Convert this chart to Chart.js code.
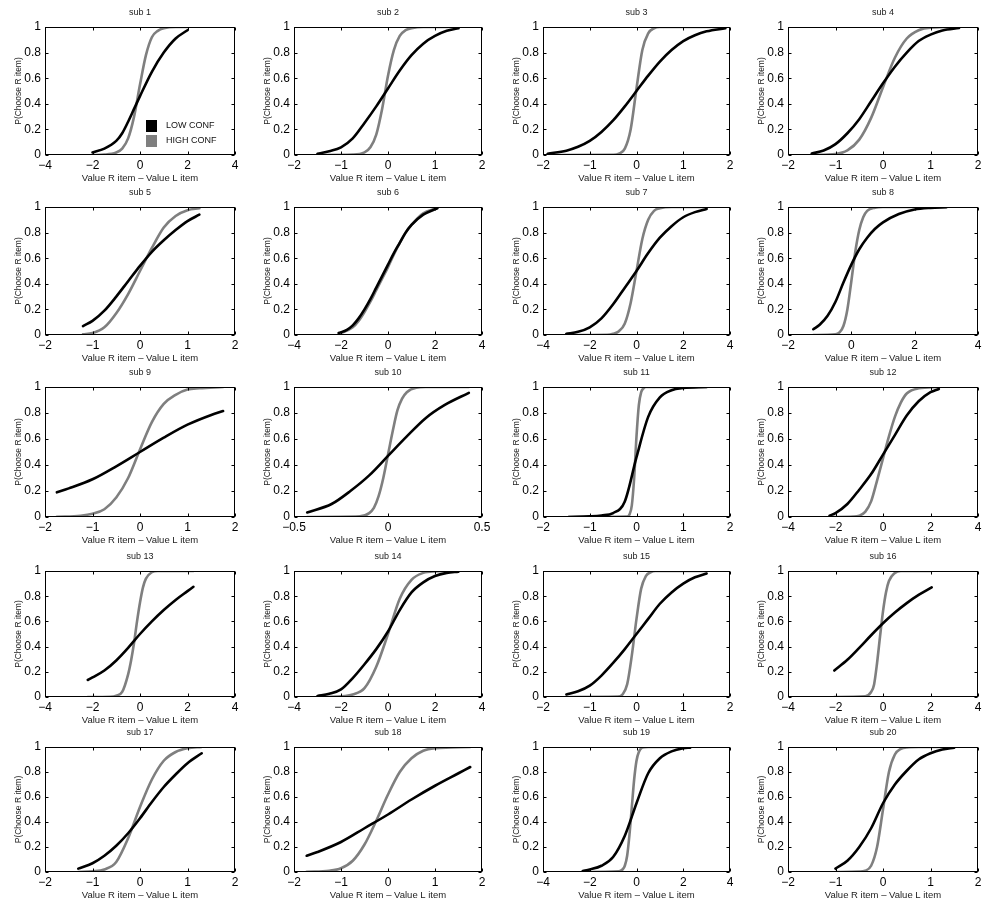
<!DOCTYPE html>
<html>
<head>
<meta charset="utf-8">
<script src="https://cdn.jsdelivr.net/npm/chart.js@4.4.1/dist/chart.umd.min.js"></script>
<style>
  html, body { margin: 0; padding: 0; background: #fff; }
  #grid { position: relative; width: 983px; height: 904px; overflow: hidden; }
  #grid canvas { position: absolute; }
</style>
</head>
<body>
<div id="grid"></div>
<script>
// x axis range and tick step of each subject's panel
const xLimits = [[-4, 4], [-2, 2], [-2, 2], [-2, 2],
                 [-2, 2], [-4, 4], [-4, 4], [-2, 4],
                 [-2, 2], [-0.5, 0.5], [-2, 2], [-4, 4],
                 [-4, 4], [-4, 4], [-2, 2], [-4, 4],
                 [-2, 2], [-2, 2], [-4, 4], [-2, 2]];
const xSteps = [2, 1, 1, 1, 1, 2, 2, 2, 1, 0.5, 1, 2, 2, 2, 1, 2, 1, 1, 2, 1];
const yTicks = [0, 0.2, 0.4, 0.6, 0.8, 1];
const seriesNames = ['LOW CONF', 'HIGH CONF'];

// fitted curves, [value difference, P(choose R)]
const lowConf = [
  [[-2, 0.02], [-1.5, 0.05], [-1, 0.11], [-0.75, 0.17], [-0.5, 0.26], [-0.25, 0.36], [0, 0.46], [0.5, 0.65], [1, 0.8], [1.5, 0.91], [2, 0.975]],
  [[-1.5, 0.01], [-1.25, 0.03], [-1, 0.06], [-0.75, 0.13], [-0.5, 0.25], [-0.25, 0.38], [0, 0.52], [0.25, 0.66], [0.5, 0.78], [0.75, 0.87], [1, 0.93], [1.25, 0.97], [1.5, 0.99]],
  [[-1.9, 0.01], [-1.5, 0.034], [-1.25, 0.064], [-1, 0.11], [-0.75, 0.18], [-0.5, 0.27], [-0.25, 0.38], [0, 0.5], [0.25, 0.62], [0.5, 0.73], [0.75, 0.82], [1, 0.89], [1.25, 0.936], [1.5, 0.966], [1.9, 0.99]],
  [[-1.5, 0.012], [-1.25, 0.035], [-1, 0.085], [-0.75, 0.17], [-0.5, 0.28], [-0.25, 0.42], [0, 0.56], [0.25, 0.69], [0.5, 0.8], [0.75, 0.89], [1, 0.94], [1.25, 0.973], [1.6, 0.992]],
  [[-1.2, 0.07], [-1, 0.11], [-0.75, 0.19], [-0.5, 0.3], [-0.25, 0.42], [0, 0.54], [0.25, 0.65], [0.5, 0.74], [0.75, 0.82], [1, 0.89], [1.25, 0.94]],
  [[-2.1, 0.015], [-1.75, 0.04], [-1.5, 0.075], [-1.25, 0.13], [-1, 0.2], [-0.75, 0.28], [-0.5, 0.37], [-0.25, 0.46], [0, 0.55], [0.25, 0.64], [0.5, 0.72], [0.75, 0.8], [1, 0.86], [1.5, 0.94], [2.1, 0.99]],
  [[-3, 0.01], [-2.5, 0.025], [-2, 0.06], [-1.5, 0.13], [-1, 0.24], [-0.5, 0.37], [0, 0.5], [0.5, 0.64], [1, 0.76], [1.5, 0.85], [2, 0.92], [2.5, 0.96], [3, 0.985]],
  [[-1.2, 0.045], [-1, 0.08], [-0.75, 0.15], [-0.5, 0.26], [-0.25, 0.41], [0, 0.55], [0.25, 0.67], [0.5, 0.76], [0.75, 0.83], [1, 0.88], [1.5, 0.945], [2, 0.98], [2.5, 0.993], [3, 0.998]],
  [[-1.75, 0.19], [-1.5, 0.22], [-1, 0.29], [-0.5, 0.39], [0, 0.5], [0.5, 0.61], [1, 0.71], [1.5, 0.785], [1.75, 0.815]],
  [[-0.43, 0.035], [-0.3, 0.1], [-0.2, 0.2], [-0.1, 0.32], [0, 0.47], [0.1, 0.62], [0.2, 0.76], [0.3, 0.86], [0.43, 0.955]],
  [[-1.45, 0], [-1, 0.005], [-0.75, 0.012], [-0.5, 0.03], [-0.25, 0.12], [0, 0.46], [0.25, 0.77], [0.5, 0.92], [0.75, 0.975], [1, 0.992], [1.5, 1]],
  [[-2.25, 0.01], [-2, 0.03], [-1.5, 0.1], [-1, 0.21], [-0.5, 0.33], [0, 0.48], [0.5, 0.63], [1, 0.78], [1.5, 0.89], [2, 0.96], [2.35, 0.985]],
  [[-2.2, 0.135], [-2, 0.155], [-1.5, 0.21], [-1, 0.29], [-0.5, 0.39], [0, 0.5], [0.5, 0.6], [1, 0.69], [1.5, 0.77], [2, 0.84], [2.25, 0.875]],
  [[-3, 0.008], [-2.5, 0.025], [-2, 0.06], [-1.5, 0.15], [-1, 0.26], [-0.5, 0.38], [0, 0.52], [0.5, 0.69], [1, 0.83], [1.5, 0.91], [2, 0.96], [2.5, 0.985], [3, 0.995]],
  [[-1.5, 0.02], [-1.25, 0.045], [-1, 0.09], [-0.75, 0.17], [-0.5, 0.27], [-0.25, 0.38], [0, 0.5], [0.25, 0.62], [0.5, 0.74], [0.75, 0.83], [1, 0.9], [1.25, 0.95], [1.5, 0.98]],
  [[-2.05, 0.21], [-1.5, 0.295], [-1, 0.39], [-0.5, 0.49], [0, 0.585], [0.5, 0.67], [1, 0.745], [1.5, 0.81], [2.05, 0.87]],
  [[-1.3, 0.027], [-1, 0.07], [-0.75, 0.13], [-0.5, 0.21], [-0.25, 0.31], [0, 0.43], [0.25, 0.56], [0.5, 0.68], [0.75, 0.78], [1, 0.87], [1.3, 0.95]],
  [[-1.73, 0.13], [-1.5, 0.16], [-1, 0.24], [-0.5, 0.35], [0, 0.46], [0.5, 0.58], [1, 0.69], [1.5, 0.79], [1.75, 0.84]],
  [[-2.3, 0.008], [-2, 0.02], [-1.5, 0.05], [-1, 0.12], [-0.5, 0.29], [0, 0.55], [0.5, 0.79], [1, 0.91], [1.5, 0.965], [2, 0.99], [2.3, 0.995]],
  [[-1, 0.027], [-0.75, 0.09], [-0.5, 0.2], [-0.25, 0.35], [0, 0.55], [0.25, 0.7], [0.5, 0.81], [0.75, 0.9], [1, 0.95], [1.25, 0.98], [1.5, 0.995]]
];

const highConf = [
  [[-2, 0], [-1.5, 0.003], [-1, 0.02], [-0.75, 0.05], [-0.5, 0.13], [-0.25, 0.3], [0, 0.55], [0.25, 0.78], [0.5, 0.92], [0.75, 0.97], [1, 0.99], [1.5, 1], [2, 1]],
  [[-1.5, 0], [-0.75, 0.003], [-0.5, 0.02], [-0.375, 0.06], [-0.25, 0.16], [-0.125, 0.36], [0, 0.62], [0.125, 0.82], [0.25, 0.93], [0.375, 0.975], [0.5, 0.99], [0.75, 1], [1.5, 1]],
  [[-1.9, 0], [-0.5, 0.002], [-0.375, 0.01], [-0.25, 0.05], [-0.125, 0.2], [0, 0.52], [0.125, 0.82], [0.25, 0.95], [0.375, 0.99], [0.5, 1], [1.9, 1]],
  [[-1.5, 0], [-1, 0.008], [-0.75, 0.036], [-0.5, 0.12], [-0.25, 0.29], [0, 0.53], [0.25, 0.76], [0.5, 0.91], [0.75, 0.975], [1, 0.995], [1.6, 1]],
  [[-1.2, 0.005], [-1, 0.015], [-0.75, 0.06], [-0.5, 0.17], [-0.25, 0.32], [0, 0.5], [0.25, 0.68], [0.5, 0.84], [0.75, 0.93], [1, 0.975], [1.25, 0.99]],
  [[-2.05, 0.01], [-1.5, 0.06], [-1.25, 0.11], [-1, 0.18], [-0.75, 0.26], [-0.5, 0.35], [-0.25, 0.44], [0, 0.53], [0.25, 0.63], [0.5, 0.72], [0.75, 0.8], [1, 0.86], [1.5, 0.95], [2.05, 0.99]],
  [[-3, 0], [-1.25, 0.002], [-1, 0.01], [-0.75, 0.03], [-0.5, 0.09], [-0.25, 0.25], [0, 0.5], [0.25, 0.75], [0.5, 0.9], [0.75, 0.97], [1, 0.99], [1.5, 1], [3, 1]],
  [[-1.2, 0], [-0.5, 0.005], [-0.375, 0.02], [-0.25, 0.07], [-0.125, 0.2], [0, 0.42], [0.125, 0.65], [0.25, 0.82], [0.375, 0.92], [0.5, 0.97], [0.75, 0.995], [1, 1], [3, 1]],
  [[-1.75, 0.002], [-1.25, 0.01], [-1, 0.025], [-0.75, 0.06], [-0.5, 0.15], [-0.25, 0.3], [0, 0.52], [0.25, 0.73], [0.5, 0.87], [0.75, 0.94], [1, 0.98], [1.25, 0.99], [1.75, 1]],
  [[-0.43, 0], [-0.15, 0.005], [-0.1, 0.03], [-0.075, 0.07], [-0.05, 0.16], [-0.025, 0.3], [0, 0.48], [0.025, 0.66], [0.05, 0.82], [0.075, 0.91], [0.1, 0.96], [0.15, 0.995], [0.2, 1], [0.43, 1]],
  [[-1.45, 0], [-0.2, 0.003], [-0.15, 0.02], [-0.1, 0.09], [-0.05, 0.3], [0, 0.62], [0.05, 0.86], [0.1, 0.96], [0.15, 0.99], [0.2, 1], [1.5, 1]],
  [[-2.25, 0], [-1.25, 0.003], [-1, 0.01], [-0.75, 0.04], [-0.5, 0.12], [-0.25, 0.28], [0, 0.45], [0.25, 0.62], [0.5, 0.77], [0.75, 0.88], [1, 0.95], [1.5, 0.99], [2.35, 1]],
  [[-2.2, 0], [-1.25, 0.002], [-1, 0.01], [-0.75, 0.04], [-0.5, 0.18], [-0.375, 0.29], [-0.25, 0.43], [-0.125, 0.6], [0, 0.75], [0.125, 0.87], [0.25, 0.94], [0.5, 0.99], [0.75, 1], [2.25, 1]],
  [[-3, 0], [-2, 0.005], [-1.5, 0.02], [-1, 0.07], [-0.5, 0.24], [0, 0.5], [0.5, 0.78], [1, 0.93], [1.5, 0.985], [2, 0.997], [3, 1]],
  [[-1.5, 0], [-0.4, 0.003], [-0.3, 0.02], [-0.2, 0.1], [-0.1, 0.33], [0, 0.62], [0.1, 0.86], [0.2, 0.96], [0.3, 0.99], [0.4, 1], [1.5, 1]],
  [[-2.05, 0], [-0.75, 0.005], [-0.5, 0.04], [-0.375, 0.1], [-0.25, 0.27], [-0.125, 0.48], [0, 0.68], [0.125, 0.83], [0.25, 0.92], [0.5, 0.985], [0.75, 1], [2.05, 1]],
  [[-1.3, 0], [-1, 0.005], [-0.75, 0.02], [-0.5, 0.08], [-0.25, 0.27], [0, 0.52], [0.25, 0.74], [0.5, 0.89], [0.75, 0.96], [1, 0.99], [1.3, 1]],
  [[-1.73, 0.002], [-1.25, 0.01], [-1, 0.03], [-0.75, 0.09], [-0.5, 0.22], [-0.25, 0.41], [0, 0.62], [0.25, 0.8], [0.5, 0.91], [0.75, 0.97], [1, 0.99], [1.75, 1]],
  [[-2.3, 0], [-0.75, 0.005], [-0.6, 0.02], [-0.5, 0.05], [-0.4, 0.13], [-0.3, 0.3], [-0.2, 0.52], [-0.1, 0.74], [0, 0.89], [0.1, 0.96], [0.25, 0.995], [0.5, 1], [2.3, 1]],
  [[-1, 0], [-0.5, 0.003], [-0.375, 0.01], [-0.25, 0.05], [-0.125, 0.2], [0, 0.5], [0.125, 0.8], [0.25, 0.94], [0.375, 0.985], [0.5, 0.997], [0.75, 1], [1.5, 1]]
];

// plot boxes on the page (MATLAB subplot grid, 5 rows x 4 columns)
const colLeft = [45, 294, 543, 788];
const colRight = [235, 482, 730, 978];
const rowTop = [27, 207, 387, 571, 747];
const rowBottom = [155, 335, 517, 697, 872];
const PAD_L = 45, PAD_T = 27, PAD_R = 12, PAD_B = 32;

const FONT = '"Liberation Sans", Arial, Helvetica, sans-serif';
Chart.defaults.font.family = FONT;

const minus = v => (v < 0 ? '\u2212' : '') + Math.abs(v);

// box round the axes, inward tick marks, and the legend of the first panel
const frame = {
  id: 'frame',
  afterDraw(chart, args, opts) {
    const { ctx, chartArea: a, scales: { x, y } } = chart;
    const L = Math.round(a.left) + 0.5, R = Math.round(a.right) - 0.5;
    const T = Math.round(a.top) + 0.5, B = Math.round(a.bottom) - 0.5;
    ctx.save();
    ctx.strokeStyle = '#000';
    ctx.lineWidth = 1;
    ctx.strokeRect(L, T, R - L, B - T);
    ctx.beginPath();
    x.ticks.forEach(t => {
      const p = Math.round(x.getPixelForValue(t.value)) + 0.5;
      ctx.moveTo(p, B); ctx.lineTo(p, B - 3);
      ctx.moveTo(p, T); ctx.lineTo(p, T + 3);
    });
    y.ticks.forEach(t => {
      const p = Math.round(y.getPixelForValue(t.value)) + 0.5;
      ctx.moveTo(L, p); ctx.lineTo(L + 3, p);
      ctx.moveTo(R, p); ctx.lineTo(R - 3, p);
    });
    ctx.stroke();
    if (opts.legend) {
      const lx = a.left + 101, ly = a.top + 93;
      chart.data.datasets.forEach((ds, k) => {
        ctx.fillStyle = ds.borderColor;
        ctx.fillRect(lx, ly + k * 15, 11, 12);
        ctx.fillStyle = '#111';
        ctx.font = '9px ' + FONT;
        ctx.textBaseline = 'middle';
        ctx.fillText(ds.label, lx + 20, ly + k * 15 + 6);
      });
    }
    ctx.restore();
  }
};

const grid = document.getElementById('grid');

for (let i = 0; i < lowConf.length; i++) {
  const r = Math.floor(i / 4), c = i % 4;
  const w = colRight[c] - colLeft[c], h = rowBottom[r] - rowTop[r];
  const canvas = document.createElement('canvas');
  canvas.width = w + PAD_L + PAD_R;
  canvas.height = h + PAD_T + PAD_B;
  canvas.style.left = (colLeft[c] - PAD_L) + 'px';
  canvas.style.top = (rowTop[r] - PAD_T) + 'px';
  canvas.style.width = canvas.width + 'px';
  canvas.style.height = canvas.height + 'px';
  grid.appendChild(canvas);

  new Chart(canvas.getContext('2d'), {
    type: 'line',
    data: {
      datasets: [{
        label: seriesNames[0],
        data: lowConf[i].map(p => ({ x: p[0], y: p[1] })),
        borderColor: '#000000',
        borderWidth: 2.6,
        pointRadius: 0,
        cubicInterpolationMode: 'monotone',
        borderCapStyle: 'round'
      }, {
        label: seriesNames[1],
        data: highConf[i].map(p => ({ x: p[0], y: p[1] })),
        borderColor: '#7f7f7f',
        borderWidth: 2.6,
        pointRadius: 0,
        cubicInterpolationMode: 'monotone',
        borderCapStyle: 'round'
      }]
    },
    options: {
      responsive: false,
      animation: false,
      events: [],
      layout: { padding: { left: 0, top: 0, right: PAD_R, bottom: 0 } },
      plugins: {
        legend: { display: false },
        tooltip: { enabled: false },
        title: {
          display: true,
          fullSize: false,
          text: 'sub ' + (i + 1),
          color: '#222',
          font: { size: 9, weight: 'normal', lineHeight: 1 },
          padding: { top: 8, bottom: 10 }
        },
        frame: { legend: i === 0 }
      },
      scales: {
        x: {
          type: 'linear',
          min: xLimits[i][0],
          max: xLimits[i][1],
          grid: { display: false, drawTicks: false },
          border: { display: false },
          ticks: {
            stepSize: xSteps[i],
            callback: minus,
            color: '#000',
            font: { size: 12 },
            padding: 3,
            maxRotation: 0,
            autoSkip: false
          },
          title: {
            display: true,
            text: 'Value R item \u2013 Value L item',
            color: '#222',
            font: { size: 9.5, lineHeight: 1 },
            padding: { top: 0, bottom: 4 }
          },
          afterFit: s => { s.height = PAD_B; }
        },
        y: {
          min: 0,
          max: 1,
          grid: { display: false, drawTicks: false },
          border: { display: false },
          afterBuildTicks: s => { s.ticks = yTicks.map(v => ({ value: v })); },
          ticks: {
            color: '#000',
            font: { size: 12 },
            padding: 4,
            callback: v => String(Math.round(v * 10) / 10)
          },
          title: {
            display: true,
            text: 'P(Choose R item)',
            color: '#222',
            font: { size: 8.5, lineHeight: 1 },
            padding: { top: 14, bottom: 0 }
          },
          afterFit: s => { s.width = PAD_L; }
        }
      }
    },
    plugins: [frame]
  });
}
</script>
</body>
</html>
